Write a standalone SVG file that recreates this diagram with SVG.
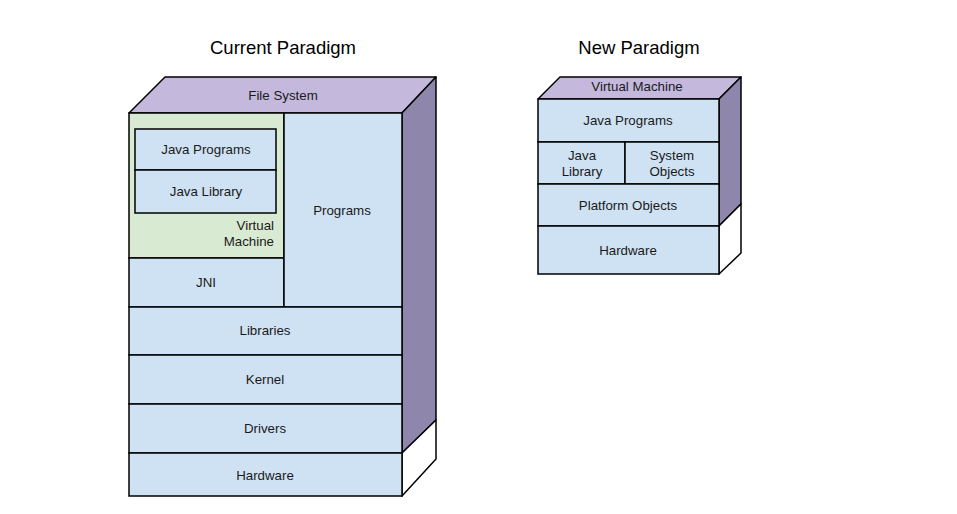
<svg xmlns="http://www.w3.org/2000/svg" width="957" height="514" viewBox="0 0 957 514">
<style>
.b{fill:#cfe2f3;stroke:#000;stroke-width:1.5}
.g{fill:#d9ead3;stroke:#000;stroke-width:1.5}
.top{fill:#c4b9dd;stroke:#000;stroke-width:1.5;stroke-linejoin:round}
.side{fill:#8e87ab;stroke:#000;stroke-width:1.5;stroke-linejoin:round}
.w{fill:#fff;stroke:#000;stroke-width:1.5;stroke-linejoin:round}
text{font-family:"Liberation Sans",Arial,sans-serif;font-size:13.3px;fill:#1a1a1a;text-anchor:middle}
.t{font-size:18.5px;fill:#000}
</style>
<rect width="957" height="514" fill="#fff"/>
<text class="t" x="283" y="54">Current Paradigm</text>
<text class="t" x="639" y="54">New Paradigm</text>
<g id="current">
<g id="fs"><polygon class="top" points="129,113 165,77 436,77 402,113"/><text x="283" y="100">File System</text></g>
<g id="side1"><polygon class="side" points="402,113 436,77 436,420 402,453"/></g>
<g id="side1w"><polygon class="w" points="402,453 436,420 436,459 402,496"/></g>
<g id="vm"><rect class="g" x="129" y="113" width="155" height="145"/><text x="274" y="230" style="text-anchor:end">Virtual</text><text x="274" y="246" style="text-anchor:end">Machine</text></g>
<g id="jp"><rect class="b" x="135" y="129" width="141" height="41"/><text x="206" y="154">Java Programs</text></g>
<g id="jl"><rect class="b" x="135" y="170" width="141" height="43"/><text x="206" y="196">Java Library</text></g>
<g id="jni"><rect class="b" x="129" y="258" width="155" height="49"/><text x="206" y="287">JNI</text></g>
<g id="prog"><rect class="b" x="284" y="113" width="118" height="194"/><text x="342" y="215">Programs</text></g>
<g id="lib"><rect class="b" x="129" y="307" width="273" height="48"/><text x="265" y="335">Libraries</text></g>
<g id="kern"><rect class="b" x="129" y="355" width="273" height="49"/><text x="265" y="384">Kernel</text></g>
<g id="drv"><rect class="b" x="129" y="404" width="273" height="49"/><text x="265" y="433">Drivers</text></g>
<g id="hw"><rect class="b" x="129" y="453" width="273" height="43"/><text x="265" y="480">Hardware</text></g>
</g>
<g id="new">
<g id="vm2"><polygon class="top" points="538,99 560,77 741,77 719,99"/><text x="637" y="91">Virtual Machine</text></g>
<g id="side2"><polygon class="side" points="719,99 741,77 741,204 719,226"/></g>
<g id="side2w"><polygon class="w" points="719,226 741,204 741,253 719,274"/></g>
<g id="jp2"><rect class="b" x="538" y="99" width="181" height="43"/><text x="628" y="125">Java Programs</text></g>
<g id="jl2"><rect class="b" x="538" y="142" width="87" height="42"/><text x="582" y="160">Java</text><text x="582" y="176">Library</text></g>
<g id="so2"><rect class="b" x="625" y="142" width="94" height="42"/><text x="672" y="160">System</text><text x="672" y="176">Objects</text></g>
<g id="po2"><rect class="b" x="538" y="184" width="181" height="42"/><text x="628" y="210">Platform Objects</text></g>
<g id="hw2"><rect class="b" x="538" y="226" width="181" height="48"/><text x="628" y="255">Hardware</text></g>
</g>
<g id="connectors"/>
</svg>
